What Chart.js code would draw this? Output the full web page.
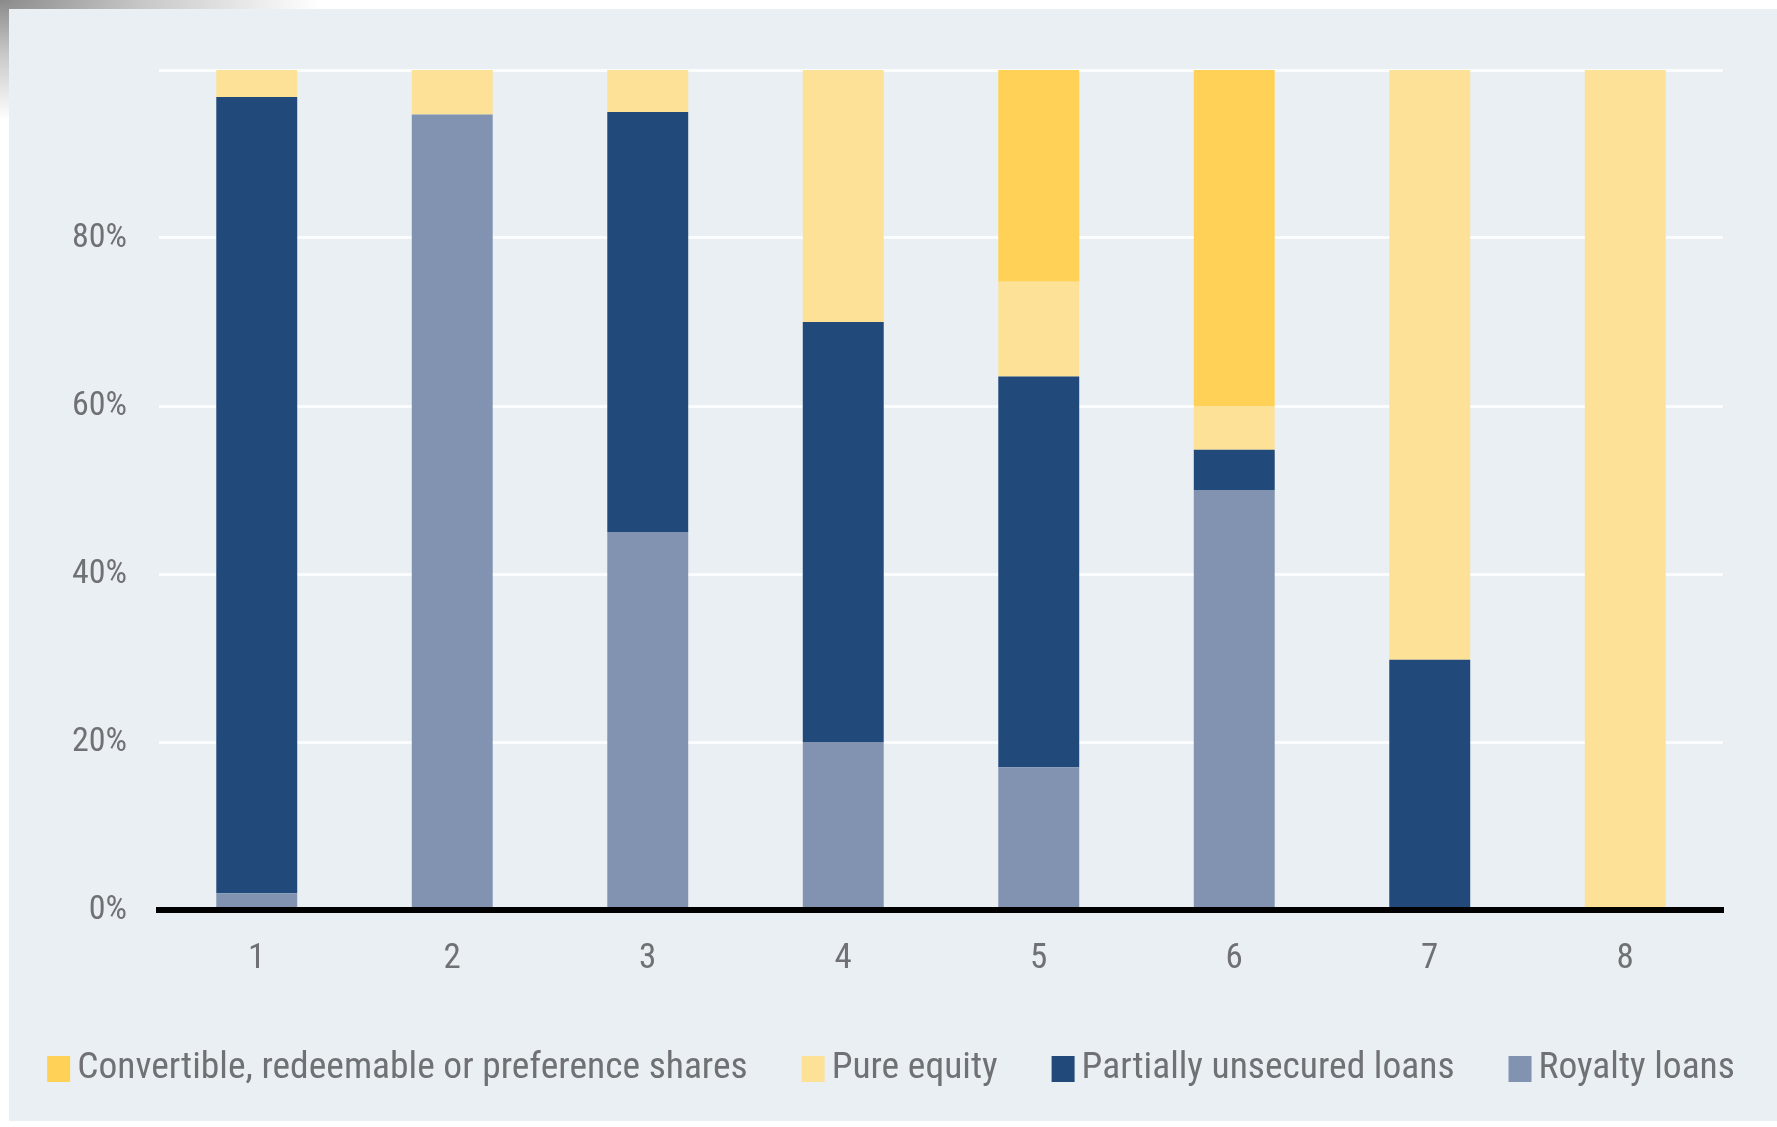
<!DOCTYPE html>
<html>
<head>
<meta charset="utf-8">
<script src="https://cdn.jsdelivr.net/npm/chart.js@4.4.0/dist/chart.umd.min.js"></script>
<style>
  html, body { margin: 0; padding: 0; }
  body {
    width: 1777px; height: 1127px; position: relative; overflow: hidden;
    background: radial-gradient(ellipse 320px 120px at 0 0, #8a8a8a 0%, #c8c8c8 45%, #ffffff 100%), #fff;
  }
  #panel { position: absolute; left: 9px; top: 9px; width: 1768px; height: 1112px; background: #e9eff3; }
  #chart { position: absolute; left: 0; top: 0; }
</style>
</head>
<body>
<div id="panel"></div>
<canvas id="chart" width="1777" height="1127"></canvas>
<script>
const categories = ["1", "2", "3", "4", "5", "6", "7", "8"];
const royaltyLoans = [2, 94.7, 45, 20, 17, 50, 0, 0];
const partiallyUnsecured = [94.8, 0, 50, 50, 46.5, 4.8, 29.8, 0];
const pureEquity = [3.2, 5.3, 5, 30, 11.3, 5.2, 70.2, 100];
const convertibleShares = [0, 0, 0, 0, 25.2, 40, 0, 0];
const yTickLabels = ["0%", "20%", "40%", "60%", "80%", ""];

const seriesNames = ["Convertible, redeemable or preference shares", "Pure equity", "Partially unsecured loans", "Royalty loans"];
const seriesColors = ["#ffd257", "#fde196", "#214a7b", "#8193b0"];

const fontFamily = '"Roboto Condensed", "DejaVu Sans Condensed", sans-serif';
const textColor = "#707174";

// legend drawn by hand: small gap between swatch and text, like the original
const legendFontSize = 37.5;
const legendPlugin = {
  id: "bottomLegend",
  afterDraw(chart) {
    const ctx = chart.ctx;
    ctx.save();
    ctx.font = `${legendFontSize}px ${fontFamily}`;
    const boxW = 23, boxH = 26, textGap = 7, itemGap = 54;
    const widths = seriesNames.map(n => ctx.measureText(n).width);
    const total = widths.reduce((a, b) => a + b, 0) + seriesNames.length * (boxW + textGap) + (seriesNames.length - 1) * itemGap;
    let x = 891 - total / 2;
    const y = 1069;
    ctx.textBaseline = "middle";
    seriesNames.forEach((name, i) => {
      ctx.fillStyle = seriesColors[i];
      ctx.fillRect(x, y - boxH / 2, boxW, boxH);
      ctx.fillStyle = textColor;
      ctx.fillText(name, x + boxW + textGap, y);
      x += boxW + textGap + widths[i] + itemGap;
    });
    ctx.restore();
  }
};

new Chart(document.getElementById("chart"), {
  type: "bar",
  data: {
    labels: categories,
    datasets: [
      { label: seriesNames[3], data: royaltyLoans, backgroundColor: seriesColors[3] },
      { label: seriesNames[2], data: partiallyUnsecured, backgroundColor: seriesColors[2] },
      { label: seriesNames[1], data: pureEquity, backgroundColor: seriesColors[1] },
      { label: seriesNames[0], data: convertibleShares, backgroundColor: seriesColors[0] }
    ]
  },
  options: {
    responsive: false,
    animation: false,
    layout: { padding: { left: 0, right: 54, top: 70, bottom: 119 } },
    datasets: { bar: { barPercentage: 0.414, categoryPercentage: 1 } },
    plugins: { legend: { display: false }, tooltip: { enabled: false } },
    scales: {
      x: {
        stacked: true,
        grid: { display: false },
        border: { color: "#000", width: 6, z: 1 },
        ticks: { color: textColor, font: { family: fontFamily, size: 35 }, padding: 20 },
        afterFit: s => { s.height = 98; }
      },
      y: {
        stacked: true,
        min: 0,
        max: 100,
        grid: { color: "#fafcfd", lineWidth: 3, drawTicks: false },
        border: { display: false },
        ticks: {
          stepSize: 20,
          color: textColor,
          font: { family: fontFamily, size: 34 },
          padding: 32,
          callback: (v, i) => yTickLabels[i]
        },
        afterFit: s => { s.width = 159; }
      }
    }
  },
  plugins: [legendPlugin]
});
</script>
</body>
</html>
